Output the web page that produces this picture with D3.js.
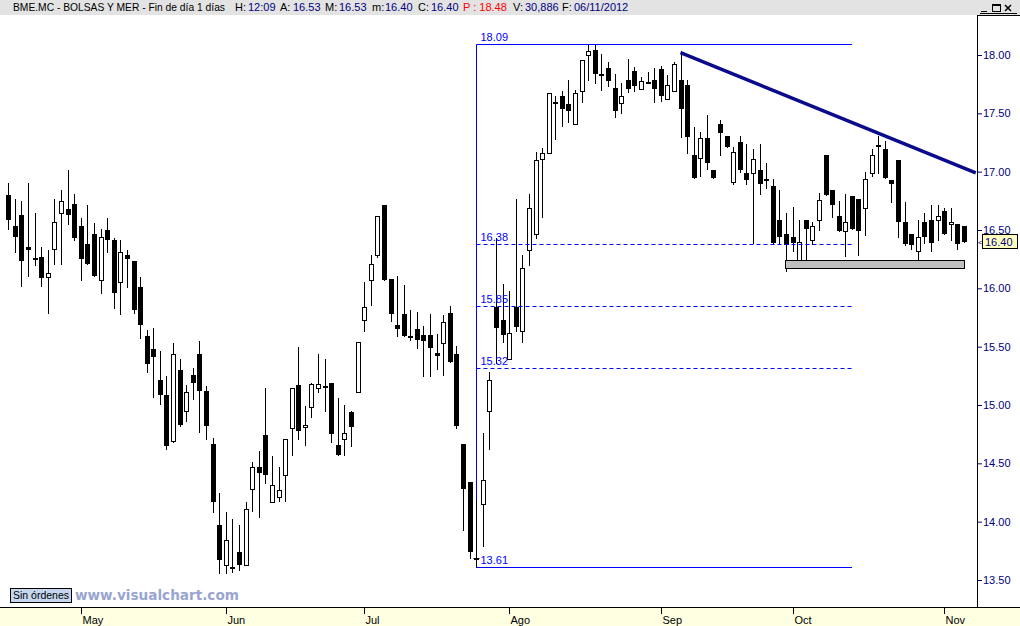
<!DOCTYPE html>
<html>
<head>
<meta charset="utf-8">
<script src="https://cdn.jsdelivr.net/npm/d3@7"></script>
<style>
  body { margin: 0; background: #fff; }
  svg { display: block; font-family: "Liberation Sans", Arial, sans-serif; }
</style>
</head>
<body>
<svg id="chart" width="1020" height="626"></svg>
<script>
// daily bars BME.MC, ~13 Apr .. 06 Nov 2012
var open  = [16.80,16.53,16.63,16.35,16.26,16.27,16.10,16.34,16.65,16.68,16.72,16.53,16.38,16.47,16.07,16.50,16.41,16.05,16.29,16.23,
             16.01,15.59,15.48,15.21,15.09,14.69,15.30,14.95,15.26,15.44,15.12,14.67,13.97,13.63,13.61,13.74,13.63,14.28,14.47,14.74,
             14.17,14.21,14.40,14.80,15.17,14.81,14.98,15.15,15.16,15.19,14.66,14.71,14.94,15.11,15.73,16.07,16.29,16.71,16.08,15.69,
             15.78,15.59,15.65,15.60,15.60,15.45,15.53,15.79,15.44,14.67,14.34,13.69,14.15,14.95,15.84,15.73,15.39,15.84,15.63,16.33,
             16.47,17.11,17.16,17.60,17.65,17.58,17.41,17.69,18.00,18.04,17.84,17.89,17.72,17.59,17.79,17.86,17.71,17.77,17.79,17.88,
             17.62,17.69,17.79,17.74,17.14,17.12,17.29,17.01,17.41,17.31,16.91,17.25,16.99,16.99,17.01,16.94,16.88,16.59,16.47,16.44,
             16.24,16.59,16.41,16.59,17.14,16.84,16.62,16.49,16.79,16.77,16.69,16.99,17.23,17.19,16.93,17.10,16.57,16.47,16.32,16.57,
             16.59,16.59,16.66,16.55,16.55,16.53];
var high  = [16.90,16.77,16.75,16.90,16.65,16.35,16.33,16.77,16.84,17.01,16.81,16.60,16.71,16.56,16.51,16.60,16.43,16.41,16.33,16.23,
             16.10,15.64,15.66,15.46,15.25,15.53,15.39,15.17,15.32,15.55,15.16,14.72,14.25,14.08,14.02,13.97,14.17,14.51,14.61,15.15,
             14.56,14.47,14.71,15.15,15.50,14.99,15.19,15.44,15.39,15.19,15.06,15.00,14.95,15.54,16.05,16.29,16.62,16.71,16.08,16.11,
             16.03,15.81,15.80,15.68,15.78,15.61,15.77,15.85,15.51,14.67,14.34,14.19,14.76,15.28,16.43,16.04,15.98,16.77,16.29,16.81,
             17.17,17.20,17.67,17.65,17.69,17.79,17.70,17.96,18.09,18.09,18.01,17.94,17.84,17.76,17.97,17.90,17.81,17.85,17.89,17.91,
             17.83,17.94,18.03,17.79,17.38,17.34,17.49,17.01,17.44,17.31,17.21,17.31,17.24,17.19,17.24,17.07,16.94,16.84,16.65,16.70,
             16.59,16.59,16.57,16.82,17.14,16.84,16.75,16.81,16.79,16.77,17.00,17.19,17.31,17.26,16.93,17.10,16.74,16.47,16.59,16.65,
             16.71,16.71,16.69,16.69,16.55,16.53];
var low   = [16.51,16.31,16.02,16.11,16.20,16.02,15.79,16.21,16.21,16.55,16.41,16.07,16.21,16.11,15.96,16.31,15.83,15.78,16.01,15.79,
             15.57,15.28,15.07,15.01,14.62,14.68,14.82,14.86,15.05,14.77,14.71,14.08,13.56,13.56,13.57,13.59,13.63,14.09,14.04,14.33,
             14.17,14.18,14.18,14.57,14.71,14.66,14.90,15.11,14.95,14.68,14.57,14.57,14.65,15.11,15.63,15.86,16.27,16.07,15.72,15.59,
             15.59,15.56,15.49,15.25,15.25,15.31,15.26,15.37,14.80,13.93,13.69,13.61,13.79,14.62,15.36,15.54,15.39,15.63,15.54,16.20,
             16.43,16.61,17.16,17.28,17.39,17.43,17.41,17.60,17.79,17.76,17.70,17.73,17.47,17.50,17.68,17.69,17.71,17.77,17.60,17.61,
             17.62,17.69,17.30,17.16,16.95,16.96,17.02,16.95,17.14,17.21,16.89,17.00,16.89,16.39,16.81,16.86,16.39,16.38,16.15,16.32,
             16.21,16.24,16.38,16.50,16.80,16.61,16.49,16.28,16.51,16.29,16.46,16.96,16.99,16.95,16.74,16.44,16.37,16.34,16.25,16.39,
             16.32,16.41,16.47,16.41,16.34,16.40];
var close = [16.59,16.44,16.23,16.33,16.25,16.09,16.13,16.57,16.75,16.63,16.43,16.25,16.21,16.11,16.44,16.41,15.96,16.31,16.25,15.81,
             15.69,15.35,15.41,15.09,14.65,15.44,14.83,15.11,15.19,15.12,14.82,14.17,13.67,13.84,13.60,13.63,14.11,14.47,14.42,14.40,
             14.31,14.27,14.71,15.15,14.78,14.83,15.18,15.18,15.15,14.75,14.57,14.76,14.81,15.54,15.84,16.21,16.62,16.07,15.78,15.65,
             15.59,15.59,15.56,15.55,15.49,15.42,15.71,15.37,14.82,14.28,13.74,13.69,14.36,15.21,15.66,15.60,15.62,15.67,16.17,16.69,
             17.10,17.16,17.67,17.60,17.54,17.52,17.67,17.96,18.03,17.84,17.82,17.78,17.52,17.65,17.71,17.73,17.78,17.77,17.71,17.65,
             17.74,17.92,17.54,17.30,16.95,17.29,17.07,16.95,17.33,17.21,17.17,17.01,16.93,17.11,16.89,16.94,16.39,16.44,16.37,16.39,
             16.40,16.51,16.53,16.76,16.80,16.71,16.49,16.57,16.51,16.49,16.94,17.14,17.21,16.95,16.89,16.57,16.38,16.37,16.44,16.44,
             16.39,16.62,16.47,16.57,16.38,16.40];

var months     = ["May", "Jun", "Jul", "Ago", "Sep", "Oct", "Nov"];
var monthStart = [11, 33, 54, 76, 99, 119, 142];   // bar index of first session
var priceTicks = [13.5, 14, 14.5, 15, 15.5, 16, 16.5, 17, 17.5, 18];

// fibonacci retracement drawn on the chart
var fiboLow = 13.61, fiboHigh = 18.09;
var fiboStart = 71, fiboEnd = 128;
var fiboRatios = [0.382, 0.5, 0.618];
// resistance line and support box
var trendIdx = [102, 146.8], trendPrice = [18.02, 16.99];
var boxIdx = [117.9, 145], boxPrice = [16.24, 16.17];

var W = 1020, H = 626;
var axisX = 977, topY = 15, botY = 607;

var svg = d3.select("#chart");

var x = d3.scaleLinear().domain([0, 145]).range([8.3, 963.9]);
var y = d3.scaleLinear().domain([13.5, 18]).range([580, 55]);

svg.append("defs").append("clipPath").attr("id", "plot")
  .append("rect").attr("x", 0).attr("y", topY).attr("width", axisX).attr("height", botY - topY);

// header bar
svg.append("rect").attr("x", 0).attr("y", 0).attr("width", W).attr("height", topY).attr("fill", "#e3e3e3");

var last = open.length - 1;
var fmt = d3.format(".2f");
var header = [
  {t: "BME.MC - BOLSAS Y MER - Fin de día 1 días", x: 13, c: "#000", w: 212, s: 10.5},
  {t: "H:", x: 235, c: "#000"}, {t: "12:09", x: 248, c: "#000080"},
  {t: "A:", x: 280, c: "#000"}, {t: fmt(open[last]), x: 293, c: "#000080"},
  {t: "M:", x: 325, c: "#000"}, {t: fmt(high[last]), x: 339, c: "#000080"},
  {t: "m:", x: 372, c: "#000"}, {t: fmt(low[last]), x: 385, c: "#000080"},
  {t: "C:", x: 418, c: "#000"}, {t: fmt(close[last]), x: 431, c: "#000080"},
  {t: "P : 18.48", x: 463, c: "#ff0000"},
  {t: "V:", x: 513, c: "#000"}, {t: "30,886", x: 525, c: "#000080"},
  {t: "F:", x: 562, c: "#000"}, {t: "06/11/2012", x: 574, c: "#000080"}
];
svg.selectAll(".hdr").data(header).enter().append("text")
  .attr("class", "hdr")
  .attr("x", function(d) { return d.x; })
  .attr("y", 11)
  .attr("font-size", function(d) { return d.s || 11; })
  .attr("fill", function(d) { return d.c; })
  .each(function(d) {
    if (d.w) d3.select(this).attr("textLength", d.w).attr("lengthAdjust", "spacingAndGlyphs");
  })
  .text(function(d) { return d.t; });

// window buttons
var btn = svg.append("g").attr("stroke", "#000").attr("fill", "none");
btn.append("line").attr("x1", 981).attr("x2", 987).attr("y1", 11.5).attr("y2", 11.5);
btn.append("rect").attr("x", 992.5).attr("y", 4.5).attr("width", 8).attr("height", 7);
btn.append("line").attr("x1", 992.5).attr("x2", 1000.5).attr("y1", 5.5).attr("y2", 5.5);
btn.append("path").attr("d", "M1005,5L1011,11M1011,5L1005,11").attr("stroke-width", 1.5);
svg.append("line").attr("x1", 980).attr("x2", 1017).attr("y1", 13.5).attr("y2", 13.5).attr("stroke", "#000");

// bottom band
svg.append("rect").attr("x", 0).attr("y", botY).attr("width", W).attr("height", H - botY).attr("fill", "#ffffe1");
svg.append("line").attr("x1", 0).attr("x2", W).attr("y1", botY + 0.5).attr("y2", botY + 0.5).attr("stroke", "#000");
svg.append("line").attr("x1", axisX + 0.5).attr("x2", axisX + 0.5).attr("y1", topY).attr("y2", botY).attr("stroke", "#000");
svg.append("line").attr("x1", axisX).attr("x2", W).attr("y1", topY + 0.5).attr("y2", topY + 0.5).attr("stroke", "#000");

var mt = svg.append("g").selectAll("g").data(months).enter().append("g")
  .attr("transform", function(d, i) { return "translate(" + (Math.round(x(monthStart[i])) + 0.5) + "," + botY + ")"; });
mt.append("line").attr("y1", 1).attr("y2", 7).attr("stroke", "#000");
mt.append("text").attr("x", 1).attr("y", 17)
  .attr("font-family", "'Liberation Sans Narrow', 'Arial Narrow', sans-serif")
  .attr("font-size", 11).attr("fill", "#000")
  .text(function(d) { return d; });

// price axis
var yAxis = d3.axisRight(y).tickValues(priceTicks).tickFormat(fmt).tickSize(4).tickPadding(1);
var ya = svg.append("g").attr("transform", "translate(" + (axisX + 1) + ",0)").call(yAxis);
ya.select(".domain").remove();
ya.selectAll("line").attr("stroke", "#000080");
ya.selectAll("text").attr("fill", "#000080").attr("font-size", 11)
  .attr("font-family", "'Liberation Sans', Arial, sans-serif");

// last price marker
var lp = y(close[last]);
svg.append("rect").attr("x", 982.5).attr("y", Math.round(lp) - 7.5).attr("width", 35).attr("height", 14)
  .attr("fill", "#ffffc0").attr("stroke", "#000");
svg.append("text").attr("x", 985).attr("y", Math.round(lp) + 4).attr("font-size", 11).attr("fill", "#000080")
  .text(fmt(close[last]));
svg.append("text").attr("x", 978).attr("y", Math.round(lp) + 3).attr("font-size", 8).attr("fill", "#000080").text("<");

// candles
var plot = svg.append("g").attr("clip-path", "url(#plot)");
var bars = plot.selectAll(".bar").data(open).enter().append("g").attr("class", "bar");
bars.append("line")
  .attr("x1", function(d, i) { return Math.round(x(i)) + 0.5; })
  .attr("x2", function(d, i) { return Math.round(x(i)) + 0.5; })
  .attr("y1", function(d, i) { return Math.round(y(high[i])); })
  .attr("y2", function(d, i) { return Math.round(y(low[i])) + 1; })
  .attr("stroke", "#000");
bars.append("rect")
  .attr("x", function(d, i) { return close[i] > open[i] ? Math.round(x(i)) - 1.5 : Math.round(x(i)) - 2; })
  .attr("y", function(d, i) {
    var t = Math.round(y(Math.max(open[i], close[i])));
    return close[i] > open[i] ? t + 0.5 : t;
  })
  .attr("width", function(d, i) { return close[i] > open[i] ? 4 : 5; })
  .attr("height", function(d, i) {
    var h = Math.round(y(Math.min(open[i], close[i]))) - Math.round(y(Math.max(open[i], close[i])));
    return close[i] > open[i] ? Math.max(h, 1) : Math.max(h, 2);
  })
  .attr("fill", function(d, i) { return close[i] > open[i] ? "#fff" : "#000"; })
  .attr("stroke", function(d, i) { return close[i] > open[i] ? "#000" : "none"; });

// fibonacci
var fib = plot.append("g").attr("stroke", "#0000ff").attr("fill", "none");
var fx0 = Math.round(x(fiboStart)) + 0.5, fx1 = Math.round(x(fiboEnd));
fib.append("line").attr("x1", fx0).attr("x2", fx0)
  .attr("y1", Math.round(y(fiboHigh)) + 0.5).attr("y2", Math.round(y(fiboLow)) + 0.5);
[fiboHigh, fiboLow].forEach(function(v) {
  fib.append("line").attr("x1", fx0).attr("x2", fx1)
    .attr("y1", Math.round(y(v)) + 0.5).attr("y2", Math.round(y(v)) + 0.5);
});
var fibLevels = fiboRatios.map(function(r) { return fiboHigh - r * (fiboHigh - fiboLow); });
fibLevels.forEach(function(v) {
  fib.append("line").attr("x1", fx0).attr("x2", fx1)
    .attr("y1", Math.round(y(v)) + 0.5).attr("y2", Math.round(y(v)) + 0.5)
    .attr("stroke-dasharray", "4,3");
});
// redraw the low bar's wick over the fibo line
plot.append("line").attr("x1", fx0).attr("x2", fx0)
  .attr("y1", Math.round(y(high[fiboStart]))).attr("y2", Math.round(y(low[fiboStart])) + 1).attr("stroke", "#000");
plot.append("line").attr("x1", fx0 - 3).attr("x2", fx0 + 3)
  .attr("y1", Math.round(y(close[fiboStart])) + 0.5).attr("y2", Math.round(y(close[fiboStart])) + 0.5).attr("stroke", "#000");

[fiboHigh].concat(fibLevels).concat([fiboLow]).forEach(function(v) {
  plot.append("text").attr("x", fx0 + 4).attr("y", Math.round(y(v)) - 3)
    .attr("font-size", 11).attr("fill", "#0000ff").text(fmt(v));
});

// trend line
plot.append("line")
  .attr("x1", x(trendIdx[0])).attr("y1", y(trendPrice[0]))
  .attr("x2", x(trendIdx[1])).attr("y2", y(trendPrice[1]))
  .attr("stroke", "#0a0a8c").attr("stroke-width", 3.5);

// support box
plot.append("rect")
  .attr("x", Math.round(x(boxIdx[0])) + 0.5).attr("y", Math.round(y(boxPrice[0])) + 0.5)
  .attr("width", Math.round(x(boxIdx[1])) - Math.round(x(boxIdx[0])))
  .attr("height", Math.round(y(boxPrice[1])) - Math.round(y(boxPrice[0])))
  .attr("fill", "#c0c0c0").attr("stroke", "#000");

// footer labels
svg.append("rect").attr("x", 10.5).attr("y", 588.5).attr("width", 61).attr("height", 14)
  .attr("fill", "#c6d6ee").attr("stroke", "#000");
svg.append("text").attr("x", 13).attr("y", 599)
  .attr("font-family", "'Liberation Sans Narrow', 'Arial Narrow', sans-serif")
  .attr("font-size", 10.5).attr("fill", "#000").text("Sin órdenes");
svg.append("text").attr("x", 75).attr("y", 600)
  .attr("font-family", "'DejaVu Sans', Verdana, sans-serif").attr("font-weight", "bold")
  .attr("font-size", 13.6).attr("fill", "#99a4d0").text("www.visualchart.com");
</script>
</body>
</html>
